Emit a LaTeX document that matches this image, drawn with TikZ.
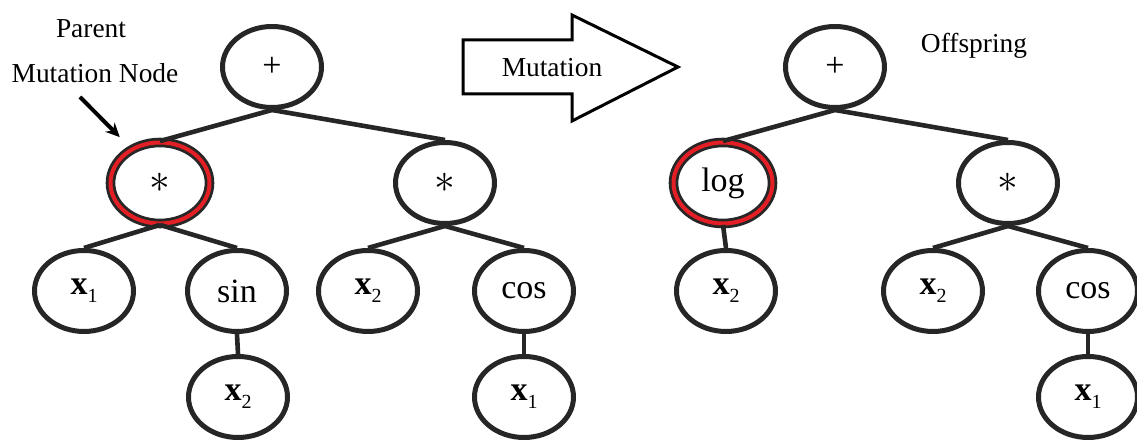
\documentclass[tikz,border=0pt]{standalone}
\usepackage{fontspec}
\setmainfont{Liberation Serif}
\usetikzlibrary{shapes.geometric,arrows.meta}
\definecolor{treeline}{HTML}{262626}
\definecolor{mutred}{HTML}{E31E24}
\newcommand{\xvar}[1]{\textbf{x}\raisebox{-4pt}{\fontsize{10}{10}\selectfont #1}}
\newcommand{\opstar}{{\fontsize{22}{22}\selectfont$\ast$}}

\begin{document}
\begin{tikzpicture}[x=0.5pt, y=-0.5pt,
	treenode/.style={ellipse, draw=treeline, line width=2.5pt, fill=white, minimum width=49.5pt, minimum height=40.5pt, inner sep=0pt, font=\fontsize{17}{20}\selectfont},
	mutnode/.style={treenode, double=mutred, double distance=2pt, line width=1.4pt},
	branch/.style={draw=treeline, line width=2.3pt},
	plaintext/.style={anchor=base, inner sep=0pt, font=\fontsize{13.7}{16}\selectfont}]
	\useasboundingbox (0,0) rectangle (1137,442);

	\node[plaintext] (parent) at (91,38) {Parent};
	\node[plaintext] (mnode) at (95,83) {Mutation Node};
	\coordinate (pointer) at (80,97);

	\node[treenode] (P0) at (272,67) {+};
	\node[mutnode] (P1) at (160,183) {\opstar};
	\node[treenode] (P2) at (445,183) {\opstar};
	\node[treenode] (P3) at (84,291) {\xvar{1}};
	\node[treenode] (P4) at (237,291) {sin};
	\node[treenode] (P5) at (368,291) {\xvar{2}};
	\node[treenode] (P6) at (524,291) {cos};
	\node[treenode] (P7) at (238,397) {\xvar{2}};
	\node[treenode] (P8) at (524,397) {\xvar{1}};

	\draw[branch] (P0.south) -- (P1.north);
	\draw[branch] (P0.south) -- (P2.north);
	\draw[branch] (P1.south) -- (P3.north);
	\draw[branch] (P1.south) -- (P4.north);
	\draw[branch] (P2.south) -- (P5.north);
	\draw[branch] (P2.south) -- (P6.north);
	\draw[branch] (P4.south) -- (P7.north);
	\draw[branch] (P6.south) -- (P8.north);
	\draw[line width=2pt, shorten >=8pt, -{Stealth[length=7pt,width=6.5pt]}] (pointer) -- (P1.130);

	\draw[line width=1.5pt, fill=white] (463,40) -- (572,40) -- (572,15) -- (678,67) -- (572,121) -- (572,94) -- (463,94) -- cycle;
	\node[plaintext] (mut) at (552,77) {Mutation};

	\node[plaintext] (off) at (974,53) {Offspring};
	\node[treenode] (C0) at (835,67) {+};
	\node[mutnode] (C1) at (723,183) {log};
	\node[treenode] (C2) at (1008,183) {\opstar};
	\node[treenode] (C3) at (726,291) {\xvar{2}};
	\node[treenode] (C4) at (933,291) {\xvar{2}};
	\node[treenode] (C5) at (1088,291) {cos};
	\node[treenode] (C6) at (1088,397) {\xvar{1}};

	\draw[branch] (C0.south) -- (C1.north);
	\draw[branch] (C0.south) -- (C2.north);
	\draw[branch] (C1.south) -- (C3.north);
	\draw[branch] (C2.south) -- (C4.north);
	\draw[branch] (C2.south) -- (C5.north);
	\draw[branch] (C5.south) -- (C6.north);
\end{tikzpicture}
\end{document}
